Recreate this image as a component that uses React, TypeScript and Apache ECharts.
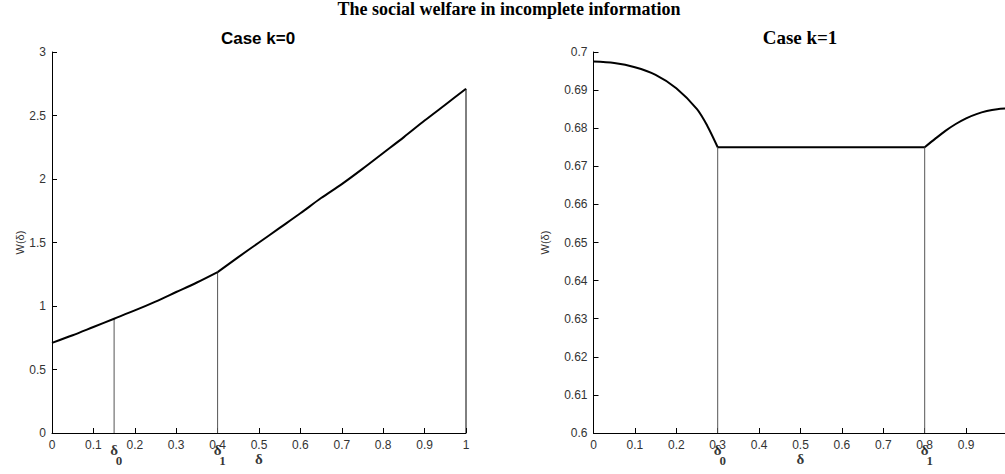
import React, { useEffect, useRef } from "react";
import * as echarts from "echarts";

// ---- data ----
const leftX = [0, 0.05, 0.1, 0.15, 0.2, 0.25, 0.3, 0.35, 0.4, 0.45, 0.5, 0.55, 0.6, 0.65, 0.7, 0.75, 0.8, 0.85, 0.9, 0.95, 1.0];
const leftY = [0.71, 0.77, 0.835, 0.9, 0.965, 1.035, 1.11, 1.185, 1.267, 1.385, 1.5, 1.615, 1.73, 1.85, 1.96, 2.08, 2.205, 2.33, 2.46, 2.585, 2.71];
const rightX = [0, 0.05, 0.1, 0.15, 0.2, 0.25, 0.275, 0.3, 0.8, 0.825, 0.85, 0.875, 0.9, 0.925, 0.95, 0.975, 1.0];
const rightY = [0.6975, 0.6971, 0.696, 0.694, 0.6905, 0.685, 0.6806, 0.675, 0.675, 0.6772, 0.6793, 0.6811, 0.6826, 0.6837, 0.6845, 0.685, 0.6852];

const leftDelta = [0.15, 0.4];
const rightDelta = [0.3, 0.8];
const deltaSubs = ["0", "1"];
const deltaMainX = 0.5;
const leftKinks = [0.4];
const rightKinks = [0.3, 0.8];
const leftEnd = 1.0;
const rightEnd = 1.0;

const leftYTicks = { min: 0, max: 3, interval: 0.5 };
const rightYTicks = { min: 0.6, max: 0.7, interval: 0.01 };
const xTicks = { min: 0, max: 1, interval: 0.1 };

const mainTitle = "The social welfare in incomplete information";
const leftTitle = "Case k=0";
const rightTitle = "Case k=1";
const yName = "W(δ)";
const deltaChar = "δ";

function valueAt(xs: number[], ys: number[], x: number) {
  const i = xs.findIndex((v) => Math.abs(v - x) < 1e-9);
  return ys[i];
}

function splitSegments(xs: number[], ys: number[], kinks: number[]) {
  const segs: number[][][] = [];
  let cur: number[][] = [];
  xs.forEach((x, i) => {
    cur.push([x, ys[i]]);
    if (kinks.some((k) => Math.abs(k - x) < 1e-9) && i < xs.length - 1) {
      segs.push(cur);
      cur = [[x, ys[i]]];
    }
  });
  if (cur.length > 1) segs.push(cur);
  return segs;
}

export default function App() {
  const ref = useRef<HTMLDivElement>(null);
  useEffect(() => {
    if (!ref.current) return;
    const chart = echarts.init(ref.current, undefined, { renderer: "svg" });

    const sans = "Liberation Sans, Arial, sans-serif";
    const serif = "Liberation Serif, Times New Roman, serif";

    const axisLabel = (dec: number, showMax: boolean) => ({
      color: "#333",
      fontFamily: sans,
      fontSize: 12,
      margin: 6,
      showMaxLabel: showMax,
      formatter: (v: number) => String(+v.toFixed(dec)),
    });
    const axisLine = { show: true, lineStyle: { color: "#000", width: 1 } };
    const axisTick = { show: true, inside: true, length: 5, lineStyle: { color: "#000" } };

    const xAxisCfg = (gi: number, showMax: boolean) => ({
      type: "value",
      gridIndex: gi,
      min: xTicks.min,
      max: xTicks.max,
      interval: xTicks.interval,
      axisLine,
      axisTick,
      splitLine: { show: false },
      axisLabel: axisLabel(1, showMax),
    });
    const yAxisCfg = (gi: number, t: any, dec: number, gap: number) => ({
      type: "value",
      gridIndex: gi,
      min: t.min,
      max: t.max,
      interval: t.interval,
      axisLine,
      axisTick,
      splitLine: { show: false },
      axisLabel: axisLabel(dec, true),
      name: yName,
      nameLocation: "middle",
      nameGap: gap,
      nameRotate: 90,
      nameTextStyle: { color: "#333", fontFamily: sans, fontSize: 11 },
    });

    const dropSeries = (gi: number, xs: number[], ys: number[], base: number, marks: number[], color: string) =>
      marks.map((m) => ({
        type: "line",
        xAxisIndex: gi,
        yAxisIndex: gi,
        data: [
          [m, base],
          [m, valueAt(xs, ys, m)],
        ],
        symbol: "none",
        lineStyle: { color, width: 1 },
        z: 1,
      }));

    const curveSeries = (gi: number, xs: number[], ys: number[], kinks: number[]) =>
      splitSegments(xs, ys, kinks).map((seg) => ({
        type: "line",
        xAxisIndex: gi,
        yAxisIndex: gi,
        data: seg,
        symbol: "none",
        smooth: 0.3,
        lineStyle: { color: "#000", width: 2 },
        z: 3,
      }));

    const lbl = (text: string, size: number, offset: number[]) => ({
      show: true,
      position: "inside",
      offset,
      formatter: text,
      fontFamily: serif,
      fontWeight: "bold",
      fontSize: size,
      color: "#000",
    });

    const labelSeries = (gi: number, base: number, marks: number[]) => ({
      type: "scatter",
      xAxisIndex: gi,
      yAxisIndex: gi,
      symbolSize: 1,
      itemStyle: { color: "rgba(0,0,0,0)" },
      silent: true,
      data: [
        ...marks.map((m) => ({ value: [m, base], label: lbl(deltaChar, 15, [0, 17]) })),
        ...marks.map((m, i) => ({ value: [m, base], label: lbl(deltaSubs[i], 13, [5, 27]) })),
        { value: [deltaMainX, base], label: lbl(deltaChar, 15, [0, 26]) },
      ],
      z: 5,
    });

    const option: any = {
      animation: false,
      backgroundColor: "#fff",
      title: [
        {
          text: mainTitle,
          left: 509,
          top: 0,
          padding: 0,
          textAlign: "center",
          textStyle: { fontFamily: serif, fontWeight: "bold", fontSize: 18, color: "#000" },
        },
        {
          text: leftTitle,
          left: 258,
          top: 30,
          padding: 0,
          textAlign: "center",
          textStyle: { fontFamily: sans, fontWeight: "bold", fontSize: 17, color: "#000" },
        },
        {
          text: rightTitle,
          left: 800,
          top: 28,
          padding: 0,
          textAlign: "center",
          textStyle: { fontFamily: serif, fontWeight: "bold", fontSize: 19, color: "#000" },
        },
      ],
      grid: [
        { left: 52, top: 52, width: 414, height: 381, outerBoundsMode: "none" },
        { left: 593.5, top: 52, width: 414, height: 381, outerBoundsMode: "none" },
      ],
      xAxis: [xAxisCfg(0, true), xAxisCfg(1, false)],
      yAxis: [yAxisCfg(0, leftYTicks, 1, 26), yAxisCfg(1, rightYTicks, 2, 43)],
      series: [
        ...dropSeries(0, leftX, leftY, leftYTicks.min, leftDelta, "#555"),
        ...dropSeries(0, leftX, leftY, leftYTicks.min, [leftEnd], "#000"),
        ...dropSeries(1, rightX, rightY, rightYTicks.min, rightDelta, "#555"),
        ...dropSeries(1, rightX, rightY, rightYTicks.min, [rightEnd], "#000"),
        ...curveSeries(0, leftX, leftY, leftKinks),
        ...curveSeries(1, rightX, rightY, rightKinks),
        labelSeries(0, leftYTicks.min, leftDelta),
        labelSeries(1, rightYTicks.min, rightDelta),
      ],
    };
    chart.setOption(option);
    return () => chart.dispose();
  }, []);

  return (
    <div
      ref={ref}
      style={{ position: "absolute", left: 0, top: 0, width: 1005, height: 474, background: "#fff" }}
    />
  );
}
